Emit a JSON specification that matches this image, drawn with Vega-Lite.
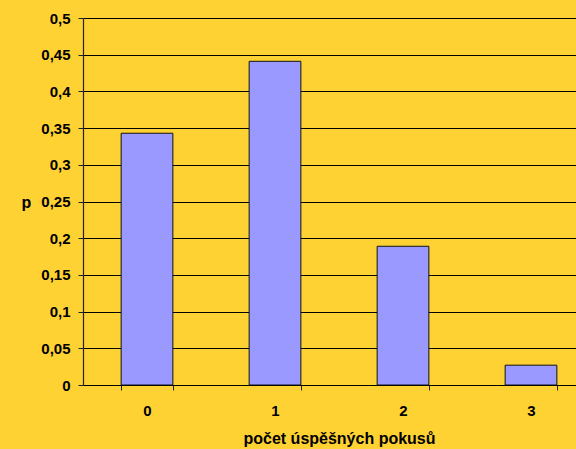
{
  "$schema": "https://vega.github.io/schema/vega-lite/v6.json",
  "autosize": "none",
  "width": 512,
  "height": 367,
  "padding": {"left": 83, "top": 18, "right": 0, "bottom": 64},
  "background": "#FFD233",
  "config": {
    "view": {"stroke": null},
    "font": "Liberation Sans",
    "locale": {
      "number": {"decimal": ",", "thousands": " ", "grouping": [3], "currency": ["", " Kč"]}
    },
    "axis": {
      "labelFont": "Liberation Sans",
      "labelFontWeight": "bold",
      "labelFontSize": 15,
      "labelColor": "#000000",
      "titleFont": "Liberation Sans",
      "titleFontWeight": "bold",
      "titleFontSize": 16,
      "titleColor": "#000000",
      "domainColor": "#222222",
      "domainWidth": 1.2,
      "tickColor": "#222222",
      "tickWidth": 1,
      "tickSize": 5
    }
  },
  "data": {
    "values": [
      {"k": "0", "p": 0.343},
      {"k": "1", "p": 0.441},
      {"k": "2", "p": 0.189},
      {"k": "3", "p": 0.027}
    ]
  },
  "mark": {"type": "bar", "fill": "#9999FF", "stroke": "#111111", "strokeWidth": 1},
  "encoding": {
    "x": {
      "field": "k",
      "type": "ordinal",
      "sort": null,
      "scale": {"paddingInner": 0.596, "paddingOuter": 0.298},
      "axis": {
        "title": "počet úspěšných pokusů",
        "labelAngle": 0,
        "tickBand": "extent",
        "labelPadding": 13,
        "titleY": 53,
        "titleBaseline": "middle",
        "domainColor": "#000000"
      }
    },
    "y": {
      "field": "p",
      "type": "quantitative",
      "scale": {"domain": [0, 0.5], "nice": false},
      "axis": {
        "title": "p",
        "titleAngle": 0,
        "titleX": -57,
        "titleY": 184,
        "titleAlign": "center",
        "titleBaseline": "middle",
        "values": [0, 0.05, 0.1, 0.15, 0.2, 0.25, 0.3, 0.35, 0.4, 0.45, 0.5],
        "format": "~g",
        "labelPadding": 8,
        "grid": true,
        "gridColor": "#000000",
        "gridWidth": 1
      }
    }
  }
}
